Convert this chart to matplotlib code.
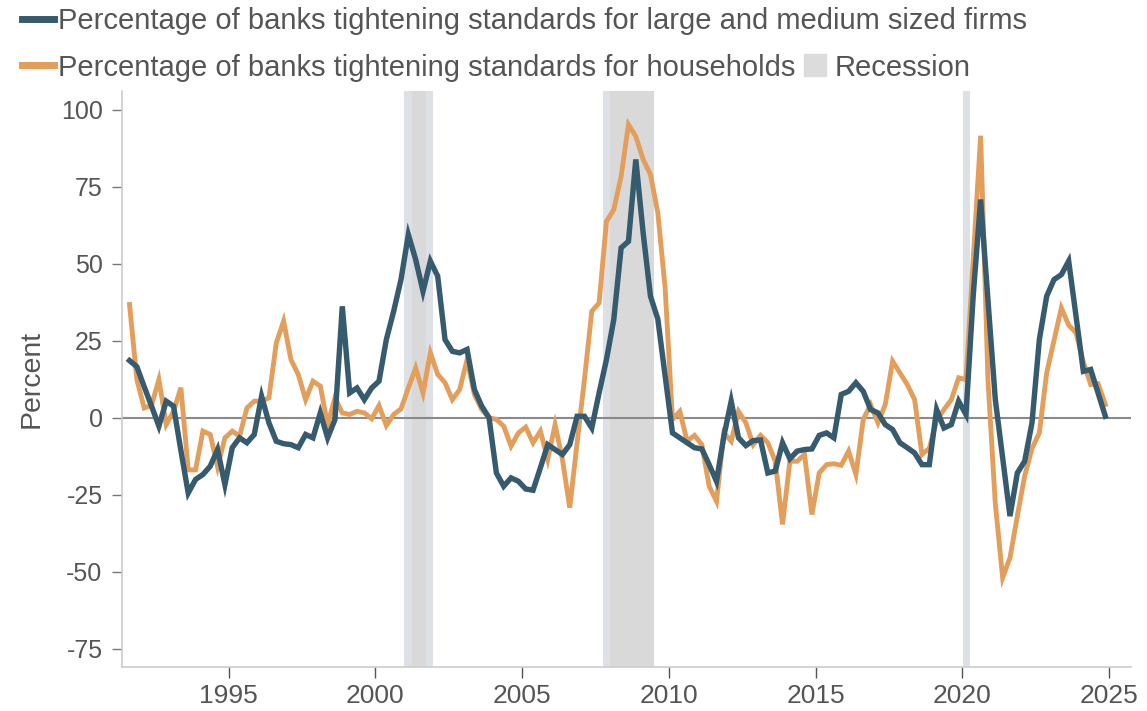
import numpy as np
import pandas as pd
import matplotlib
matplotlib.use("Agg")
from matplotlib import pyplot as plt
from matplotlib.lines import Line2D

plt.rcParams["font.family"] = ["Liberation Sans", "DejaVu Sans"]
plt.rcParams["axes.unicode_minus"] = False

# quarterly survey readings, 1991Q3 .. 2024Q4
quarters = pd.period_range("1991Q3", periods=134, freq="Q")

firms = [
    18.5, 16.5, 10.0, 3.7, -2.8, 5.3, 3.7, -10.7, -24.5, -20.1,
    -18.5, -15.8, -10.4, -21.8, -9.8, -6.6, -8.2, -5.5, 6.9, -1.7,
    -7.7, -8.5, -8.8, -9.8, -5.5, -6.6, 1.5, -6.6, -0.6, 36.1,
    8.0, 9.6, 5.8, 9.6, 11.8, 25.3, 34.5, 44.8, 59.4, 51.3,
    41.0, 50.8, 45.9, 25.3, 21.5, 21.0, 22.1, 9.1, 3.7, -0.1,
    -18.0, -22.3, -19.6, -20.7, -23.2, -23.6, -16.3, -8.8, -10.4, -12.0,
    -8.8, 0.4, 0.4, -3.4, 8.0, 18.8, 31.8, 55.1, 57.2, 83.8,
    60.0, 39.4, 32.0, 13.4, -5.0, -6.6, -8.2, -9.8, -10.2, -15.3,
    -20.7, -6.1, 5.3, -6.6, -9.1, -7.5, -7.3, -18.0, -17.4, -8.2,
    -13.4, -10.9, -10.4, -10.2, -5.8, -5.0, -6.6, 7.5, 8.5, 11.3,
    8.5, 2.6, 1.5, -2.3, -3.9, -8.2, -9.8, -11.5, -15.3, -15.3,
    2.6, -3.4, -2.3, 5.3, 1.0, 40.0, 70.8, 38.0, 5.8, -13.0,
    -32.0, -18.0, -14.2, -1.7, 25.3, 39.4, 44.8, 46.4, 50.8, 33.0,
    15.0, 15.6, 8.0, 0.4,
]

households = [
    36.7, 12.3, 3.1, 4.0, 12.3, -2.3, 2.0, 9.7, -17.0, -17.0,
    -4.4, -5.5, -16.0, -6.6, -4.4, -6.0, 3.1, 5.3, 5.3, 6.4,
    24.2, 31.3, 18.8, 14.0, 5.8, 11.8, 10.2, -2.3, 6.4, 1.5,
    1.0, 2.0, 1.5, -0.4, 3.9, -2.6, 1.0, 2.8, 9.6, 16.1,
    8.0, 21.0, 14.0, 11.3, 5.8, 9.1, 18.8, 7.5, 2.6, -0.1,
    -0.6, -2.8, -9.3, -5.0, -3.1, -8.2, -4.4, -13.6, -2.3, -13.6,
    -29.3, -8.2, 12.3, 34.5, 37.2, 63.7, 67.5, 78.3, 95.1, 91.3,
    83.8, 78.9, 66.5, 42.0, -0.6, 2.0, -7.7, -5.8, -8.8, -22.3,
    -27.2, -5.0, -7.7, 2.0, -1.7, -8.8, -5.8, -8.2, -14.2, -34.7,
    -14.2, -14.2, -12.0, -31.5, -18.0, -15.3, -15.0, -15.5, -10.9, -18.5,
    -0.6, 4.2, -1.7, 4.2, 18.3, 14.5, 10.7, 5.8, -12.0, -10.0,
    -1.0, 2.6, 5.8, 12.9, 12.3, 52.0, 91.5, 12.0, -28.0, -52.0,
    -45.5, -32.0, -19.0, -10.0, -5.0, 14.5, 25.0, 35.6, 30.0, 27.5,
    18.0, 10.7, 11.0, 4.2,
]

# recession spans (decimal years): outer quarterly band, inner monthly band
rec_outer = [(2000.98, 2001.97), (2007.75, 2009.5), (2020.03, 2020.26)]
rec_inner = [(2001.24, 2001.73), (2008.0, 2009.5)]

years = quarters.year + (quarters.quarter - 1) / 4 + 0.125

blue = "#365a6e"
orange = "#e39e5b"
grey_txt = "#555555"

fig = plt.figure(figsize=(11.47, 7.11), dpi=100)
ax = fig.add_axes([0.1064, 0.0619, 0.8797, 0.810])

for a, b in rec_outer:
    ax.axvspan(a, b, color="#dde0e4", lw=0, zorder=0)
for a, b in rec_inner:
    ax.axvspan(a, b, color="#d9d9d9", lw=0, zorder=0)

ax.axhline(0, color="#8a8a8a", lw=1.5, zorder=1)
ax.plot(years, households, color=orange, lw=3.5, zorder=2, solid_joinstyle="miter")
ax.plot(years, firms, color=blue, lw=3.9, zorder=3, solid_joinstyle="miter")

ax.set_xlim(1991.37, 2025.75)
ax.set_ylim(-81, 106)
ax.set_yticks([-75, -50, -25, 0, 25, 50, 75, 100])
ax.set_xticks([1995, 2000, 2005, 2010, 2015, 2020, 2025])

for s in ["top", "right"]:
    ax.spines[s].set_visible(False)
for s in ["left", "bottom"]:
    ax.spines[s].set_color("#cccccc")
    ax.spines[s].set_linewidth(1.2)

ax.tick_params(axis="y", length=7, width=1, color="#777777", pad=7,
               labelsize=18, labelcolor=grey_txt)
ax.tick_params(axis="x", length=8, width=1, color="#555555", pad=4,
               labelsize=19, labelcolor=grey_txt)

ax.set_ylabel("Percent", fontsize=20.5, color=grey_txt)
ax.yaxis.set_label_coords(-0.077, 0.5)

h_firms = Line2D([], [], color=blue, lw=5)
h_hh = Line2D([], [], color=orange, lw=5)
h_rec = Line2D([], [], color="#dcdcdc", marker="s", markersize=16, lw=0)

leg_kw = dict(frameon=False, fontsize=21, labelcolor=grey_txt,
              handlelength=1.1, handletextpad=0.12, borderpad=0,
              borderaxespad=0, loc="center left")
fig.legend([h_firms], ["Percentage of banks tightening standards for large and medium sized firms"],
           bbox_to_anchor=(22 / 1147, 0.970), **leg_kw)
fig.legend([h_hh, h_rec], ["Percentage of banks tightening standards for households", "Recession"],
           bbox_to_anchor=(22 / 1147, 0.905), ncol=2, columnspacing=0.15, **leg_kw)

fig.savefig("out.png", dpi=100)
